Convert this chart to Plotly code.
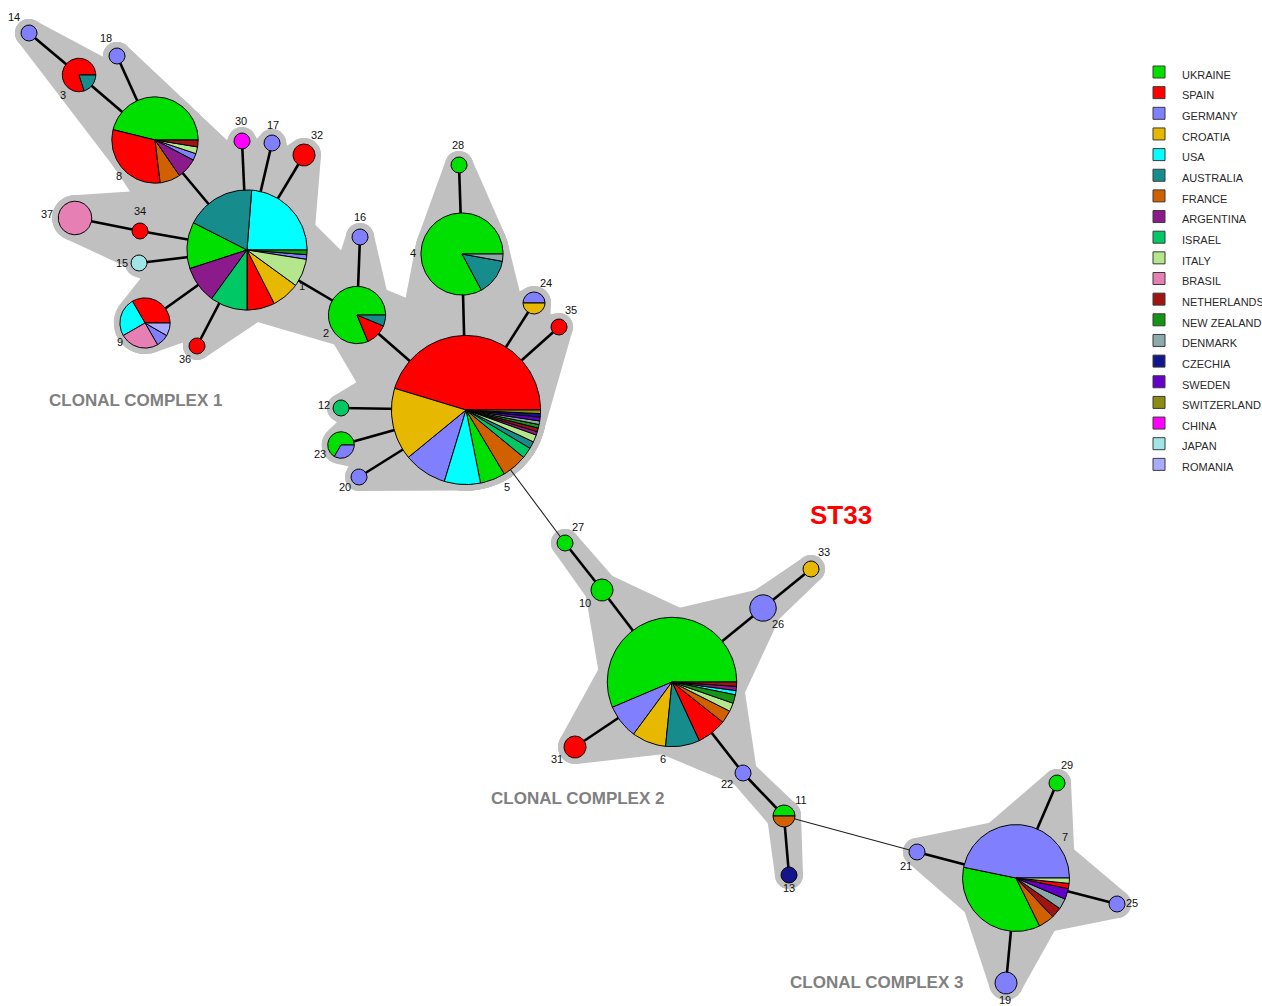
import math
import plotly.graph_objects as go

# ---------------------------------------------------------------- data
countries = ["UKRAINE", "SPAIN", "GERMANY", "CROATIA", "USA", "AUSTRALIA",
             "FRANCE", "ARGENTINA", "ISRAEL", "ITALY", "BRASIL", "NETHERLANDS",
             "NEW ZEALAND", "DENMARK", "CZECHIA", "SWEDEN", "SWITZERLAND",
             "CHINA", "JAPAN", "ROMANIA"]
country_colors = ["#00e000", "#ff0000", "#8080ff", "#e6b800", "#00ffff",
                  "#178c8c", "#d06000", "#8b1a8b", "#00c864", "#b4e68c",
                  "#e680b4", "#a01414", "#149614", "#8caaaa", "#14148c",
                  "#6400c8", "#8c8c14", "#ff00ff", "#a0e6e6", "#aaaaff"]

# isolates per sequence type, slices in drawing order
isolates = {
    1: [("USA", 19), ("AUSTRALIA", 15), ("UKRAINE", 10), ("ARGENTINA", 8),
        ("ISRAEL", 8), ("SPAIN", 6), ("CROATIA", 6), ("ITALY", 6),
        ("GERMANY", 1), ("NEW ZEALAND", 1)],
    2: [("UKRAINE", 13), ("SPAIN", 2), ("AUSTRALIA", 1)],
    3: [("SPAIN", 4), ("AUSTRALIA", 1)],
    4: [("UKRAINE", 29), ("AUSTRALIA", 5), ("DENMARK", 1)],
    5: [("SPAIN", 58), ("CROATIA", 20), ("GERMANY", 12), ("USA", 10),
        ("UKRAINE", 7), ("FRANCE", 7), ("ISRAEL", 3), ("AUSTRALIA", 2),
        ("ITALY", 2), ("ARGENTINA", 1), ("NETHERLANDS", 1), ("NEW ZEALAND", 1),
        ("DENMARK", 1), ("SWEDEN", 1), ("CZECHIA", 1), ("SWITZERLAND", 1)],
    6: [("UKRAINE", 53), ("GERMANY", 8), ("CROATIA", 8), ("AUSTRALIA", 8),
        ("SPAIN", 7), ("FRANCE", 3), ("ITALY", 2), ("NEW ZEALAND", 2),
        ("USA", 1), ("ARGENTINA", 1), ("NETHERLANDS", 1)],
    7: [("GERMANY", 29), ("UKRAINE", 22), ("FRANCE", 3), ("NETHERLANDS", 2),
        ("DENMARK", 2), ("SWEDEN", 2), ("SPAIN", 1), ("ITALY", 1)],
    8: [("UKRAINE", 18), ("SPAIN", 12), ("FRANCE", 3), ("ARGENTINA", 3),
        ("GERMANY", 1), ("ITALY", 1), ("NETHERLANDS", 1)],
    9: [("SPAIN", 4), ("USA", 3), ("BRASIL", 3), ("GERMANY", 1), ("ROMANIA", 1)],
    10: [("UKRAINE", 2)],
    11: [("UKRAINE", 1), ("FRANCE", 1)],
    12: [("ISRAEL", 1)],
    13: [("CZECHIA", 1)],
    14: [("GERMANY", 1)],
    15: [("JAPAN", 1)],
    16: [("GERMANY", 1)],
    17: [("GERMANY", 1)],
    18: [("GERMANY", 1)],
    19: [("GERMANY", 2)],
    20: [("GERMANY", 1)],
    21: [("GERMANY", 1)],
    22: [("GERMANY", 1)],
    23: [("UKRAINE", 2), ("GERMANY", 1)],
    24: [("GERMANY", 1), ("CROATIA", 1)],
    25: [("GERMANY", 1)],
    26: [("GERMANY", 3)],
    27: [("UKRAINE", 1)],
    28: [("UKRAINE", 1)],
    29: [("UKRAINE", 1)],
    30: [("CHINA", 1)],
    31: [("SPAIN", 2)],
    32: [("SPAIN", 2)],
    33: [("CROATIA", 1)],
    34: [("SPAIN", 1)],
    35: [("SPAIN", 1)],
    36: [("SPAIN", 1)],
    37: [("BRASIL", 5)],
}

# single-locus-variant links inside a clonal complex, and links between complexes
slv_links = [(14, 3), (3, 8), (18, 8), (8, 1), (30, 1), (17, 1), (32, 1),
             (34, 1), (37, 34), (15, 1), (9, 1), (36, 1), (1, 2), (16, 2),
             (2, 5), (28, 4), (4, 5), (24, 5), (35, 5), (12, 5), (23, 5),
             (20, 5), (27, 10), (10, 6), (33, 26), (26, 6), (31, 6), (22, 6),
             (11, 22), (13, 11), (21, 7), (29, 7), (25, 7), (19, 7)]
bridge_links = [(5, 27), (11, 21)]

complex_names = ["CLONAL COMPLEX 1", "CLONAL COMPLEX 2", "CLONAL COMPLEX 3"]
title_text = "ST33"

# ---------------------------------------------------------------- layout
W, H = 1262, 1006
node_pos = {
    1: (247, 250), 2: (357, 315), 3: (79, 75), 4: (462, 254), 5: (466, 410),
    6: (672, 682), 7: (1016, 878), 8: (155, 140), 9: (145, 323),
    10: (602, 590), 11: (784, 816), 12: (341, 408), 13: (789, 875),
    14: (29, 33), 15: (139, 263), 16: (360, 237), 17: (272, 143),
    18: (117, 56), 19: (1006, 983), 20: (359, 477), 21: (917, 852),
    22: (743, 773), 23: (341, 445), 24: (534, 303), 25: (1117, 904),
    26: (763, 608), 27: (565, 543), 28: (459, 165), 29: (1057, 783),
    30: (242, 141), 31: (575, 747), 32: (304, 155), 33: (811, 569),
    34: (140, 231), 35: (559, 327), 36: (197, 346), 37: (75, 218),
}
label_offset = {
    1: (55, 37), 2: (-31, 19), 3: (-16, 21), 4: (-49, 0), 5: (41, 78),
    6: (-9, 78), 7: (49, -40), 8: (-36, 37), 9: (-25, 20), 10: (-17, 14),
    11: (17, -15), 12: (-17, -2), 13: (0, 14), 14: (-15, -15), 15: (-17, 1),
    16: (0, -19), 17: (1, -17), 18: (-11, -17), 19: (-1, 18), 20: (-14, 11),
    21: (-11, 15), 22: (-16, 12), 23: (-21, 10), 24: (12, -19), 25: (15, 0),
    26: (15, 17), 27: (13, -15), 28: (-1, -19), 29: (10, -17), 30: (-1, -19),
    31: (-18, 13), 32: (13, -19), 33: (13, -16), 34: (0, -19), 35: (12, -16),
    36: (-12, 14), 37: (-28, -3),
}
# outer branches whose shading tapers straight into the grand-parent node
tapered_branches = [(18, 1), (14, 8), (37, 1)]
complex_label_pos = [(135, 400), (577, 798), (876, 982)]
HALO = "#c0c0c0"
HALO_PAD = 6
FONT = "Liberation Sans, Arial, sans-serif"
color_of = dict(zip(countries, country_colors))


def node_radius(total):
    return 8.0 * total ** 0.46


radius = {st: node_radius(sum(n for _, n in comp)) for st, comp in isolates.items()}


def arc(cx, cy, r, a0, a1, step=2.0):
    """Points along a circle, angles in degrees counter-clockwise from east."""
    k = max(2, int(abs(a1 - a0) / step) + 1)
    pts = []
    for i in range(k + 1):
        t = math.radians(a0 + (a1 - a0) * i / k)
        pts.append((cx + r * math.cos(t), cy - r * math.sin(t)))
    return pts


def tangent_hull(p1, r1, p2, r2, k=48):
    """Closed outline around two circles joined by their outer tangents."""
    (x1, y1), (x2, y2) = p1, p2
    d = math.hypot(x2 - x1, y2 - y1)
    phi = math.atan2(y2 - y1, x2 - x1)
    c = max(-0.999, min(0.999, (r1 - r2) / d))
    al = math.acos(c)
    pts = []
    for i in range(k + 1):
        t = phi + al + (2 * math.pi - 2 * al) * i / k
        pts.append((x1 + r1 * math.cos(t), y1 + r1 * math.sin(t)))
    for i in range(k + 1):
        t = phi - al + 2 * al * i / k
        pts.append((x2 + r2 * math.cos(t), y2 + r2 * math.sin(t)))
    return "M " + " L ".join(f"{x:.2f},{y:.2f}" for x, y in pts) + " Z"


fig = go.Figure()

# grey clonal-complex areas
shapes = []
for a, b in slv_links + tapered_branches:
    shapes.append(dict(type="path", path=tangent_hull(node_pos[a], radius[a] + HALO_PAD,
                                                      node_pos[b], radius[b] + HALO_PAD),
                       fillcolor=HALO, line=dict(width=0), layer="below",
                       xref="x", yref="y"))
for st, (x, y) in node_pos.items():
    R = radius[st] + HALO_PAD
    shapes.append(dict(type="circle", x0=x - R, x1=x + R, y0=y - R, y1=y + R,
                       fillcolor=HALO, line=dict(width=0), layer="below",
                       xref="x", yref="y"))


# links
def link_xy(links):
    xs, ys = [], []
    for a, b in links:
        xs += [node_pos[a][0], node_pos[b][0], None]
        ys += [node_pos[a][1], node_pos[b][1], None]
    return xs, ys


lx, ly = link_xy(slv_links)
fig.add_trace(go.Scatter(x=lx, y=ly, mode="lines", line=dict(color="black", width=2.6),
                         hoverinfo="skip", showlegend=False))
bx, by = link_xy(bridge_links)
fig.add_trace(go.Scatter(x=bx, y=by, mode="lines", line=dict(color="#202020", width=1.1),
                         hoverinfo="skip", showlegend=False))

# pie nodes: one trace per country, wedges separated by gaps
wedge_x = {c: [] for c in countries}
wedge_y = {c: [] for c in countries}
for st, comp in isolates.items():
    cx, cy = node_pos[st]
    total = sum(n for _, n in comp)
    r = radius[st]
    start = 0.0
    for country, n in comp:
        sweep = 360.0 * n / total
        pts = arc(cx, cy, r, start, start + sweep)
        if len(comp) > 1:
            pts = [(cx, cy)] + pts + [(cx, cy)]
        wedge_x[country] += [p[0] for p in pts] + [None]
        wedge_y[country] += [p[1] for p in pts] + [None]
        start += sweep

for country in countries:
    if not wedge_x[country]:
        continue
    fig.add_trace(go.Scatter(x=wedge_x[country], y=wedge_y[country], mode="lines",
                             fill="toself", fillcolor=color_of[country],
                             line=dict(color="black", width=1),
                             hoverinfo="skip", showlegend=False, name=country))

# ST numbers
sts = list(node_pos.keys())
fig.add_trace(go.Scatter(
    x=[node_pos[s][0] + label_offset[s][0] for s in sts],
    y=[node_pos[s][1] + label_offset[s][1] for s in sts],
    text=[str(s) for s in sts], mode="text",
    textfont=dict(family=FONT, size=11, color="#111111"),
    hoverinfo="skip", showlegend=False))

# legend
legend_y = [72 + 20.65 * i for i in range(len(countries))]
fig.add_trace(go.Scatter(
    x=[1159] * len(countries), y=legend_y, mode="markers",
    marker=dict(symbol="square", size=12, color=country_colors,
                line=dict(color="#3a3a3a", width=1)),
    hoverinfo="skip", showlegend=False))
fig.add_trace(go.Scatter(
    x=[1182] * len(countries), y=[v + 4 for v in legend_y], text=countries,
    mode="text", textposition="middle right", cliponaxis=False,
    textfont=dict(family=FONT, size=11, color="#2a2a2a"),
    hoverinfo="skip", showlegend=False))

annotations = []
for name, (x, y) in zip(complex_names, complex_label_pos):
    annotations.append(dict(x=x, y=y, xref="x", yref="y", text=f"<b>{name}</b>",
                            showarrow=False, font=dict(family=FONT, size=17, color="#808080")))
annotations.append(dict(x=841, y=515, xref="x", yref="y", text=f"<b>{title_text}</b>",
                        showarrow=False, font=dict(family=FONT, size=26, color="#ff0000")))

fig.update_layout(
    width=W, height=H, autosize=False,
    margin=dict(l=0, r=0, t=0, b=0, pad=0),
    paper_bgcolor="white", plot_bgcolor="white",
    xaxis=dict(range=[0, W], visible=False, fixedrange=True),
    yaxis=dict(range=[H, 0], visible=False, fixedrange=True),
    shapes=shapes, annotations=annotations, showlegend=False,
)

fig.write_html("out.html")
